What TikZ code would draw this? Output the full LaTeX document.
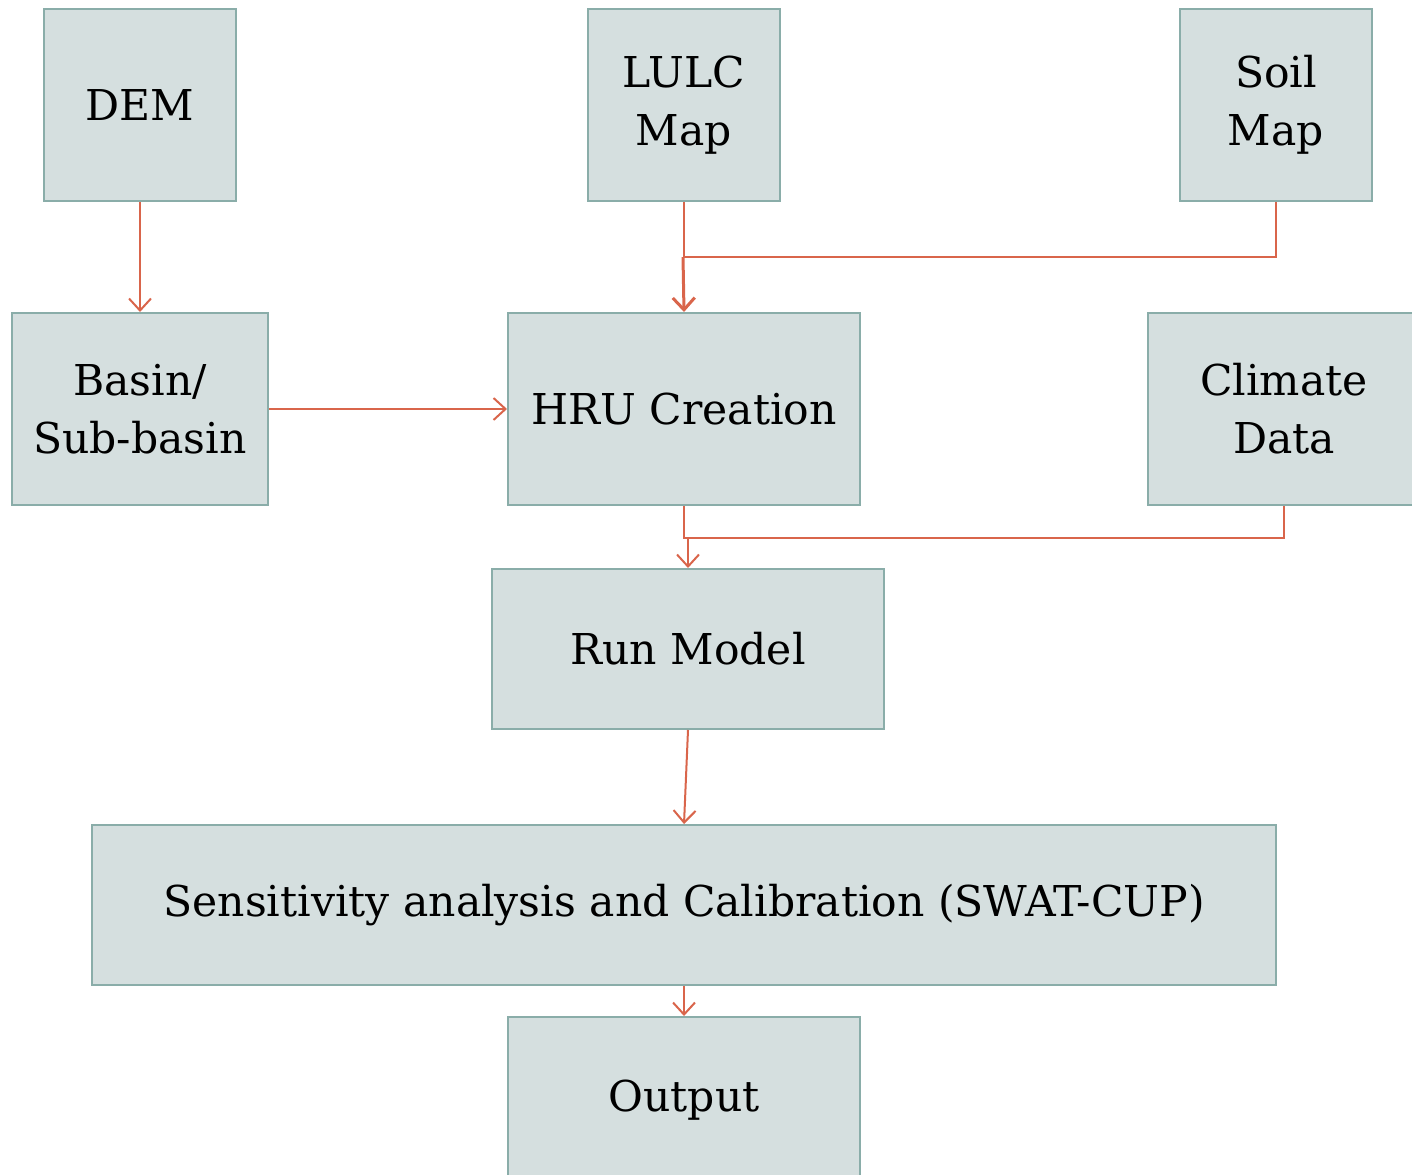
\documentclass[tikz,border=0pt]{standalone}
\usepackage{fontspec}
\setmainfont{DejaVu Serif}
\usetikzlibrary{arrows.meta}
\definecolor{boxfill}{HTML}{D5DFDF}
\definecolor{boxline}{HTML}{8AADA9}
\definecolor{arr}{HTML}{D9654B}
\begin{document}
\begin{tikzpicture}[x=1pt,y=-1pt,
 box/.style={draw=boxline,fill=boxfill,line width=2pt,inner sep=0pt,align=center,font=\fontsize{42.5}{58}\selectfont},
 conn/.style={draw=arr,line width=2pt},
 arrow/.style={conn,-{Straight Barb[length=12pt,width=22pt]}}]
\useasboundingbox (0,0) rectangle (1412,1174);
\node[box,minimum width=192pt,minimum height=192pt] (dem) at (140,105) {DEM};
\node[box,minimum width=192pt,minimum height=192pt] (lulc) at (684,105) {LULC\\Map};
\node[box,minimum width=192pt,minimum height=192pt] (soil) at (1276,105) {Soil\\Map};
\node[box,minimum width=256pt,minimum height=192pt] (basin) at (140,409) {Basin/\\Sub-basin};
\node[box,minimum width=352pt,minimum height=192pt] (hru) at (684,409) {HRU Creation};
\node[box,minimum width=272pt,minimum height=192pt] (clim) at (1284,409) {Climate\\Data};
\node[box,minimum width=392pt,minimum height=160pt] (run) at (688,649) {Run Model};
\node[box,minimum width=1184pt,minimum height=160pt] (sens) at (684,905) {Sensitivity analysis and Calibration (SWAT-CUP)};
\node[box,minimum width=352pt,minimum height=166pt] (out) at (684,1100) {Output};
\coordinate (j1) at (683,257);
\coordinate (j2) at (688,537);
\draw[arrow] (dem) -- (basin);
\draw[conn] (lulc.south) -- (lulc.south |- j1);
\draw[conn] (soil.south) |- (j1);
\draw[arrow,line width=3pt] (j1) -- (hru.north);
\draw[arrow] (basin) -- (hru);
\draw[conn] (hru.south) -- ++(0,32) -| (clim.south);
\draw[arrow] (j2) -- (run.north);
\draw[arrow] (run.south) -- (sens.north);
\draw[arrow] (sens.south) -- (out.north);
\end{tikzpicture}
\end{document}
